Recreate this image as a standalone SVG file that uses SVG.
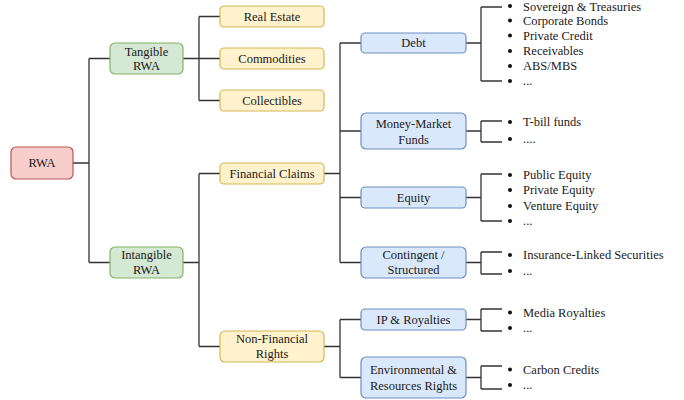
<svg xmlns="http://www.w3.org/2000/svg" width="684" height="400" viewBox="0 0 684 400">
<style>
text{font-family:"Liberation Serif","Times New Roman",serif;font-size:12.5px;fill:#1a1a1a;dominant-baseline:central}
.n text{text-anchor:middle}
.red{fill:#f8cecc;stroke:#b85450}
.green{fill:#d5e8d4;stroke:#82b366}
.yel{fill:#fff2cc;stroke:#d6b656}
.blue{fill:#dae8fc;stroke:#6c8ebf}
rect{stroke-width:1.2}
.c path{fill:none;stroke:#333;stroke-width:1.3}
.b circle{fill:#111}
</style>
<g class="c" id="connectors">
<path d="M73,163H89M89,58.5V262.5M89,58.5H110M89,262.5H110"/>
<path d="M183,58.5H199M199,16.5V100.5M199,16.5H220M199,58.5H220M199,100.5H220"/>
<path d="M183,262.5H199M199,173.5V346.5M199,173.5H220M199,346.5H220"/>
<path d="M324,173.5H340M340,43V262.5M340,43H361M340,131H361M340,197.5H361M340,262.5H361"/>
<path d="M324,346.5H340M340,319.5V377.5M340,319.5H361M340,377.5H361"/>
<path d="M466,43H481M481,7V81M481,7H502M481,81H502"/>
<path d="M466,131H481M481,121V142M481,121H502M481,142H502"/>
<path d="M466,197.5H481M481,174V221M481,174H502M481,221H502"/>
<path d="M466,262.5H481M481,252V274M481,252H502M481,274H502"/>
<path d="M466,319.5H481M481,309V331M481,309H502M481,331H502"/>
<path d="M466,377.5H481M481,366V389M481,366H502M481,389H502"/>
</g>
<g class="n" id="rwa"><rect class="red" x="11" y="147" width="62" height="32" rx="5"/><text x="42" y="163">RWA</text></g>
<g class="n" id="tangible"><rect class="green" x="110" y="43" width="73" height="31" rx="5"/><text x="146.5" y="51.5">Tangible</text><text x="146.5" y="66">RWA</text></g>
<g class="n" id="intangible"><rect class="green" x="110" y="247" width="73" height="31" rx="5"/><text x="146.5" y="255">Intangible</text><text x="146.5" y="270">RWA</text></g>
<g class="n" id="real-estate"><rect class="yel" x="220" y="6" width="104" height="21" rx="4"/><text x="272" y="16.5">Real Estate</text></g>
<g class="n" id="commodities"><rect class="yel" x="220" y="48" width="104" height="21" rx="4"/><text x="272" y="58.5">Commodities</text></g>
<g class="n" id="collectibles"><rect class="yel" x="220" y="90" width="104" height="21" rx="4"/><text x="272" y="100.5">Collectibles</text></g>
<g class="n" id="financial-claims"><rect class="yel" x="220" y="163" width="104" height="21" rx="4"/><text x="272" y="173.5">Financial Claims</text></g>
<g class="n" id="non-financial"><rect class="yel" x="220" y="331" width="104" height="31" rx="5"/><text x="272" y="338.5">Non-Financial</text><text x="272" y="354">Rights</text></g>
<g class="n" id="debt"><rect class="blue" x="361" y="33" width="105" height="20" rx="4"/><text x="413.5" y="43">Debt</text></g>
<g class="n" id="mmf"><rect class="blue" x="361" y="113" width="105" height="36" rx="5"/><text x="413.5" y="124">Money-Market</text><text x="413.5" y="139.5">Funds</text></g>
<g class="n" id="equity"><rect class="blue" x="361" y="187" width="105" height="21" rx="4"/><text x="413.5" y="197.5">Equity</text></g>
<g class="n" id="contingent"><rect class="blue" x="361" y="247" width="105" height="31" rx="5"/><text x="413.5" y="254.5">Contingent /</text><text x="413.5" y="270">Structured</text></g>
<g class="n" id="ip"><rect class="blue" x="361" y="309" width="105" height="21" rx="4"/><text x="413.5" y="319.5">IP &amp; Royalties</text></g>
<g class="n" id="env"><rect class="blue" x="361" y="357" width="105" height="41" rx="5"/><text x="413.5" y="370">Environmental &amp;</text><text x="413.5" y="385.5">Resources Rights</text></g>
<g class="b" id="debt-items"><circle cx="510" cy="6" r="2"/><circle cx="510" cy="20.5" r="2"/><circle cx="510" cy="35.5" r="2"/><circle cx="510" cy="51" r="2"/><circle cx="510" cy="66" r="2"/><circle cx="510" cy="81" r="2"/>
<text x="523" y="6.5">Sovereign &amp; Treasuries</text><text x="523" y="20.5">Corporate Bonds</text><text x="523" y="35.5">Private Credit</text><text x="523" y="51">Receivables</text><text x="523" y="66">ABS/MBS</text><text x="523" y="81">...</text></g>
<g class="b" id="mmf-items"><circle cx="510" cy="122" r="2"/><circle cx="510" cy="139" r="2"/><text x="523" y="122">T-bill funds</text><text x="523" y="139">....</text></g>
<g class="b" id="equity-items"><circle cx="510" cy="175" r="2"/><circle cx="510" cy="190" r="2"/><circle cx="510" cy="206" r="2"/><circle cx="510" cy="221" r="2"/>
<text x="523" y="175">Public Equity</text><text x="523" y="190">Private Equity</text><text x="523" y="206">Venture Equity</text><text x="523" y="221">...</text></g>
<g class="b" id="contingent-items"><circle cx="510" cy="255" r="2"/><circle cx="510" cy="271" r="2"/><text x="523" y="255">Insurance-Linked Securities</text><text x="523" y="271">...</text></g>
<g class="b" id="ip-items"><circle cx="510" cy="312.5" r="2"/><circle cx="510" cy="328" r="2"/><text x="523" y="312.5">Media Royalties</text><text x="523" y="328">...</text></g>
<g class="b" id="env-items"><circle cx="510" cy="369.5" r="2"/><circle cx="510" cy="385" r="2"/><text x="523" y="369.5">Carbon Credits</text><text x="523" y="385">...</text></g>
</svg>
